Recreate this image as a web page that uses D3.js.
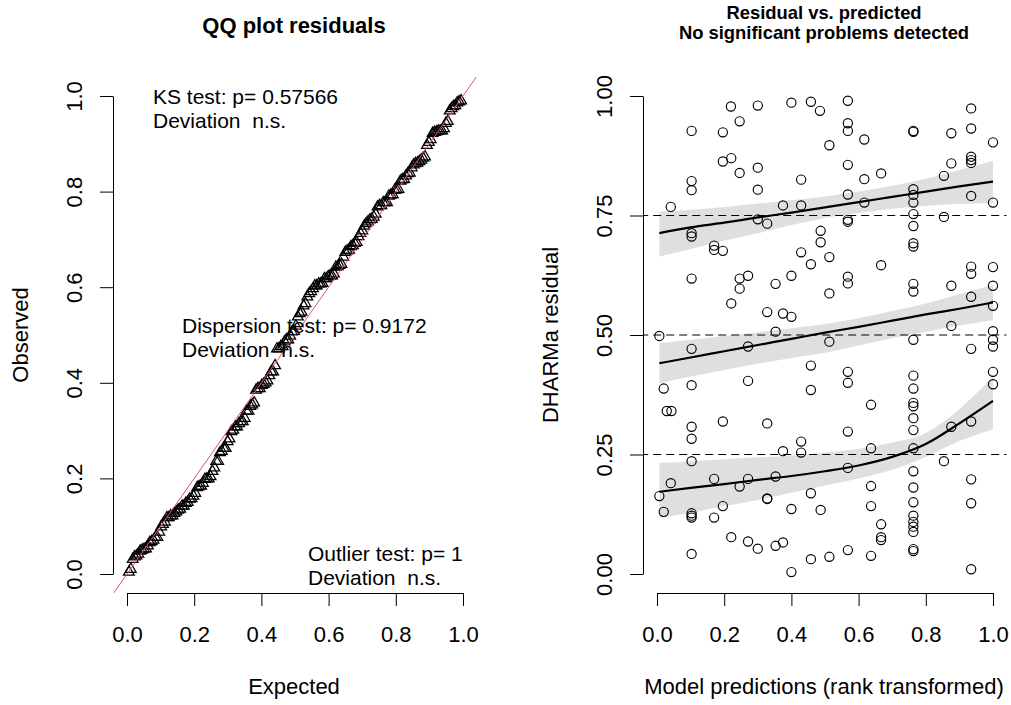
<!DOCTYPE html>
<html>
<head>
<meta charset="utf-8">
<script src="https://cdn.jsdelivr.net/npm/d3@7"></script>
<style>
  html, body { margin: 0; padding: 0; background: #ffffff; }
  svg { display: block; font-family: "Liberation Sans", Arial, sans-serif; }
  text { white-space: pre; }
</style>
</head>
<body>
<svg id="chart" width="1011" height="705"></svg>
<script>
// ---------------- DATA ----------------
// DHARMa scaled residuals: model prediction rank (x) and residual (y)
const residX = [
  0.220,0.300,0.400,0.458,0.485,0.246,0.103,0.196,0.196,0.221,
  0.246,0.300,0.103,0.103,0.300,0.429,0.041,0.375,0.429,0.300,
  0.328,0.103,0.103,0.170,0.170,0.196,0.487,0.487,0.429,0.458,
  0.103,0.246,0.271,0.246,0.353,0.400,0.221,0.328,0.375,0.400,
  0.007,0.353,0.568,0.568,0.568,0.513,0.617,0.763,0.763,0.876,
  0.935,0.935,0.935,0.935,0.935,1.000,0.568,0.617,0.667,0.876,
  0.854,0.568,0.617,0.763,0.763,0.763,0.935,1.000,0.568,0.568,
  0.763,0.854,0.763,0.763,0.763,0.513,0.667,0.568,0.568,0.513,
  0.763,0.763,0.876,0.935,0.935,1.000,1.000,0.935,1.000,0.876,
  1.000,0.763,0.513,0.935,1.000,1.000,0.458,0.458,0.568,0.568,
  0.763,0.763,0.763,0.763,0.763,0.763,1.000,1.000,0.637,0.568,
  0.637,0.568,0.876,0.935,0.763,0.854,0.763,0.458,0.487,0.637,
  0.637,0.763,0.763,0.763,0.763,0.763,0.763,0.667,0.667,0.667,
  0.935,0.935,0.458,0.513,0.568,0.637,0.763,0.763,0.935,0.103,
  0.271,0.020,0.103,0.271,0.029,0.043,0.196,0.328,0.103,0.103,
  0.429,0.375,0.429,0.103,0.041,0.007,0.170,0.271,0.246,0.353,
  0.328,0.328,0.020,0.103,0.103,0.103,0.170,0.196,0.400,0.221,
  0.271,0.300,0.353,0.375,0.103,0.400
];
const residY = [
  0.978,0.980,0.986,0.988,0.969,0.947,0.927,0.924,0.863,0.870,
  0.839,0.850,0.822,0.803,0.804,0.825,0.768,0.771,0.771,0.742,
  0.733,0.713,0.706,0.687,0.678,0.676,0.718,0.694,0.673,0.648,
  0.618,0.618,0.624,0.597,0.607,0.624,0.566,0.548,0.545,0.538,
  0.498,0.507,0.990,0.943,0.927,0.897,0.909,0.927,0.925,0.922,
  0.974,0.932,0.873,0.866,0.860,0.903,0.856,0.826,0.838,0.859,
  0.833,0.794,0.777,0.805,0.793,0.777,0.791,0.777,0.741,0.737,
  0.753,0.747,0.728,0.692,0.685,0.663,0.646,0.622,0.608,0.587,
  0.607,0.591,0.603,0.643,0.628,0.642,0.603,0.580,0.561,0.519,
  0.508,0.490,0.486,0.471,0.490,0.476,0.436,0.385,0.423,0.400,
  0.415,0.388,0.358,0.351,0.326,0.301,0.423,0.397,0.354,0.298,
  0.263,0.222,0.308,0.319,0.263,0.236,0.215,0.169,0.134,0.184,
  0.142,0.181,0.150,0.122,0.109,0.099,0.088,0.104,0.077,0.071,
  0.198,0.148,0.031,0.036,0.050,0.038,0.052,0.048,0.010,0.471,
  0.476,0.388,0.395,0.404,0.341,0.341,0.319,0.315,0.308,0.283,
  0.277,0.257,0.254,0.236,0.190,0.163,0.199,0.199,0.183,0.204,
  0.158,0.157,0.130,0.127,0.122,0.118,0.118,0.142,0.136,0.077,
  0.068,0.053,0.059,0.066,0.042,0.004
];

// Quantile regression fits (0.25, 0.5, 0.75) with confidence bands
const qX     = [0.007, 0.1, 0.2, 0.3, 0.4, 0.5, 0.6, 0.7, 0.8, 0.9, 1.0];
const q25    = [0.172, 0.180, 0.188, 0.197, 0.205, 0.215, 0.227, 0.245, 0.272, 0.315, 0.362];
const q25Lo  = [0.117, 0.128, 0.142, 0.155, 0.170, 0.185, 0.200, 0.218, 0.245, 0.278, 0.303];
const q25Hi  = [0.232, 0.236, 0.240, 0.244, 0.248, 0.254, 0.262, 0.275, 0.295, 0.345, 0.413];
const q50    = [0.441, 0.453, 0.466, 0.479, 0.492, 0.505, 0.517, 0.530, 0.543, 0.555, 0.568];
const q50Lo  = [0.399, 0.413, 0.427, 0.440, 0.452, 0.463, 0.478, 0.493, 0.507, 0.520, 0.531];
const q50Hi  = [0.483, 0.490, 0.498, 0.506, 0.514, 0.523, 0.535, 0.550, 0.566, 0.585, 0.605];
const q75    = [0.713, 0.725, 0.735, 0.746, 0.756, 0.767, 0.778, 0.789, 0.800, 0.811, 0.821];
const q75Lo  = [0.664, 0.680, 0.697, 0.713, 0.730, 0.745, 0.755, 0.764, 0.770, 0.774, 0.776];
const q75Hi  = [0.758, 0.762, 0.768, 0.775, 0.782, 0.790, 0.800, 0.812, 0.827, 0.845, 0.864];
const quantileLevels = [0.25, 0.5, 0.75];

// Tick labels
const qqTicks   = [0, 0.2, 0.4, 0.6, 0.8, 1.0];
const qqTickLabels = ["0.0","0.2","0.4","0.6","0.8","1.0"];
const resXTicks = [0, 0.2, 0.4, 0.6, 0.8, 1.0];
const resXTickLabels = ["0.0","0.2","0.4","0.6","0.8","1.0"];
const resYTicks = [0, 0.25, 0.5, 0.75, 1.0];
const resYTickLabels = ["0.00","0.25","0.50","0.75","1.00"];

// Texts
const qqTitle = "QQ plot residuals";
const resTitle = ["Residual vs. predicted", "No significant problems detected"];
const testTexts = [
  ["KS test: p= 0.57566", "Deviation  n.s."],
  ["Dispersion test: p= 0.9172", "Deviation  n.s."],
  ["Outlier test: p= 1", "Deviation  n.s."]
];

// ---------------- DRAW ----------------
const svg = d3.select("#chart");
svg.append("rect").attr("width", 1011).attr("height", 705).attr("fill", "#fff");

const FS = 22;

// Left panel scales
const xL = d3.scaleLinear().domain([0, 1]).range([127, 463]);
const yL = d3.scaleLinear().domain([0, 1]).range([574, 96]);
// Right panel scales
const xR = d3.scaleLinear().domain([0, 1]).range([657, 993]);
const yR = d3.scaleLinear().domain([0, 1]).range([574, 96]);

const defs = svg.append("defs");
defs.append("clipPath").attr("id", "clipL").append("rect")
  .attr("x", xL(-0.04)).attr("y", yL(1.04))
  .attr("width", xL(1.04) - xL(-0.04)).attr("height", yL(-0.04) - yL(1.04));
defs.append("clipPath").attr("id", "clipR").append("rect")
  .attr("x", xR(-0.04)).attr("y", yR(1.04))
  .attr("width", xR(1.04) - xR(-0.04)).attr("height", yR(-0.04) - yR(1.04));

function styleAxis(g) {
  g.selectAll("path.domain").attr("stroke", "#000").attr("stroke-width", 1);
  g.selectAll(".tick line").attr("stroke", "#000").attr("stroke-width", 1);
  g.selectAll("text").attr("font-size", FS).attr("fill", "#000")
    .attr("font-family", '"Liberation Sans", Arial, sans-serif');
}

function bottomAxis(scale, vals, labels, ybase) {
  const g = svg.append("g").attr("transform", `translate(0,${ybase})`)
    .call(d3.axisBottom(scale).tickValues(vals).tickFormat((d, i) => labels[i])
      .tickSize(13).tickSizeOuter(0).tickPadding(20));
  styleAxis(g);
}
function leftAxis(scale, vals, labels, xbase) {
  const g = svg.append("g").attr("transform", `translate(${xbase},0)`)
    .call(d3.axisLeft(scale).tickValues(vals).tickFormat((d, i) => labels[i])
      .tickSize(13).tickSizeOuter(0));
  styleAxis(g);
  g.selectAll(".tick text")
    .attr("x", null).attr("dy", null)
    .attr("text-anchor", "middle")
    .attr("transform", "translate(-31,0) rotate(-90)");
}

// ===== Left panel: QQ plot =====
const sortedRes = residY.slice().sort((a, b) => a - b);
const nRes = sortedRes.length;
const qqData = sortedRes.map((v, i) => ({ e: (i + 1) / (nRes + 1), o: v }));

const tri = d3.symbol().type(d3.symbolTriangle).size(50);
svg.append("g").selectAll("path").data(qqData).join("path")
  .attr("d", tri)
  .attr("transform", d => `translate(${xL(d.e)},${yL(d.o)})`)
  .attr("fill", "none").attr("stroke", "#000").attr("stroke-width", 1.25);

svg.append("g").attr("clip-path", "url(#clipL)")
  .append("line")
  .attr("x1", xL(-0.1)).attr("y1", yL(-0.1)).attr("x2", xL(1.1)).attr("y2", yL(1.1))
  .attr("stroke", "#DF536B").attr("stroke-width", 1);

bottomAxis(xL, qqTicks, qqTickLabels, 593);
leftAxis(yL, qqTicks, qqTickLabels, 113);

svg.append("text").attr("x", 294).attr("y", 33).attr("text-anchor", "middle")
  .attr("font-size", FS).attr("font-weight", "bold").text(qqTitle);
svg.append("text").attr("x", 294).attr("y", 694).attr("text-anchor", "middle")
  .attr("font-size", FS).text("Expected");
svg.append("text").attr("transform", "translate(28,335) rotate(-90)")
  .attr("text-anchor", "middle").attr("font-size", FS).text("Observed");

// test result blocks: two lines each
const testPos = [[153, 104], [182, 333], [308, 561]];
const testFS = 21, testLH = 23.5;
testTexts.forEach((lines, k) => {
  lines.forEach((s, j) => {
    svg.append("text").attr("x", testPos[k][0]).attr("y", testPos[k][1] + j * testLH)
      .attr("font-size", testFS).attr("fill", "#000").text(s);
  });
});

// ===== Right panel: residual vs predicted =====
const gR = svg.append("g").attr("clip-path", "url(#clipR)");
const resPts = residX.map((x, i) => ({ x: x, y: residY[i] }));
gR.append("g").selectAll("circle").data(resPts).join("circle")
  .attr("cx", d => xR(d.x)).attr("cy", d => yR(d.y)).attr("r", 4.6)
  .attr("fill", "none").attr("stroke", "#000").attr("stroke-width", 1.15);

gR.append("g").selectAll("line").data(quantileLevels).join("line")
  .attr("x1", xR(-0.05)).attr("x2", xR(1.05))
  .attr("y1", d => yR(d)).attr("y2", d => yR(d))
  .attr("stroke", "#000").attr("stroke-width", 1.1).attr("stroke-dasharray", "8,5");

const bands = [
  { mid: q25, lo: q25Lo, hi: q25Hi },
  { mid: q50, lo: q50Lo, hi: q50Hi },
  { mid: q75, lo: q75Lo, hi: q75Hi }
];
const area = d3.area().x(d => xR(d.x)).y0(d => yR(d.lo)).y1(d => yR(d.hi)).curve(d3.curveMonotoneX);
const line = d3.line().x(d => xR(d.x)).y(d => yR(d.m)).curve(d3.curveMonotoneX);
bands.forEach(b => {
  const rows = qX.map((x, i) => ({ x: x, m: b.mid[i], lo: b.lo[i], hi: b.hi[i] }));
  gR.append("path").datum(rows).attr("d", area)
    .attr("fill", "rgba(0,0,0,0.125)").attr("stroke", "none");
  gR.append("path").datum(rows).attr("d", line)
    .attr("fill", "none").attr("stroke", "#000").attr("stroke-width", 2.2);
});

bottomAxis(xR, resXTicks, resXTickLabels, 593);
leftAxis(yR, resYTicks, resYTickLabels, 643);

resTitle.forEach((t, j) => {
  svg.append("text").attr("x", 824).attr("y", 19 + j * 20).attr("text-anchor", "middle")
    .attr("font-size", 18.4).attr("font-weight", "bold").text(t);
});
svg.append("text").attr("x", 824).attr("y", 694).attr("text-anchor", "middle")
  .attr("font-size", FS).text("Model predictions (rank transformed)");
svg.append("text").attr("transform", "translate(558,335) rotate(-90)")
  .attr("text-anchor", "middle").attr("font-size", FS).text("DHARMa residual");
</script>
</body>
</html>
